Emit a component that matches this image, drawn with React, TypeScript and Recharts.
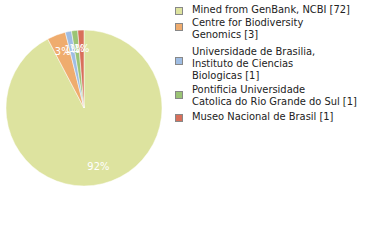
import React from "react";
import { PieChart, Pie, Cell, Legend } from "recharts";

const categories = [
  "Mined from GenBank, NCBI",
  "Centre for Biodiversity Genomics",
  "Universidade de Brasilia, Instituto de Ciencias Biologicas",
  "Pontificia Universidade Catolica do Rio Grande do Sul",
  "Museo Nacional de Brasil",
];
const legendLines = [
  ["Mined from GenBank, NCBI [72]"],
  ["Centre for Biodiversity", "Genomics [3]"],
  ["Universidade de Brasilia,", "Instituto de Ciencias", "Biologicas [1]"],
  ["Pontificia Universidade", "Catolica do Rio Grande do Sul [1]"],
  ["Museo Nacional de Brasil [1]"],
];
const values = [72, 3, 1, 1, 1];
const colors = ["#dde39f", "#efac6e", "#9fbde3", "#9bc475", "#d86f5a"];

const data = categories.map((name, i) => ({ name, value: values[i] }));
const total = values.reduce((a, b) => a + b, 0);

const FONT = "'DejaVu Sans Condensed', 'DejaVu Sans', sans-serif";
const RAD = Math.PI / 180;

const renderLabel = (props: any) => {
  const { cx, cy, midAngle, value } = props;
  const r = 60;
  const x = cx + r * Math.cos(-midAngle * RAD);
  const y = cy + r * Math.sin(-midAngle * RAD);
  const pct = Math.floor((value / total) * 100);
  return (
    <text
      x={x}
      y={y}
      fill="#ffffff"
      fontSize={11}
      fontFamily={FONT}
      textAnchor="middle"
      dominantBaseline="central"
    >
      {pct + "%"}
    </text>
  );
};

const renderLegend = () => {
  const squareTops = [7, 23, 57, 91, 114];
  const textTops = [[4], [17, 29], [46, 58, 70], [84, 96], [111]];
  return (
    <div style={{ position: "absolute", left: 0, top: 0, width: 380, height: 240, fontFamily: FONT, fontSize: 11, color: "#222" }}>
      {legendLines.map((lines, i) => (
        <React.Fragment key={i}>
          <div
            style={{
              position: "absolute",
              left: 175,
              top: squareTops[i],
              width: 6,
              height: 6,
              background: colors[i],
              border: "1px solid #888",
            }}
          />
          {lines.map((t, j) => (
            <div key={j} style={{ position: "absolute", left: 192, top: textTops[i][j], lineHeight: "12px", whiteSpace: "nowrap" }}>
              {t}
            </div>
          ))}
        </React.Fragment>
      ))}
    </div>
  );
};

export default function App() {
  return (
    <div style={{ position: "fixed", left: 0, top: 0, width: 380, height: 240, background: "#fff" }}>
      <PieChart width={380} height={240} margin={{ top: 0, right: 0, bottom: 0, left: 0 }}>
        <Pie
          data={data}
          dataKey="value"
          nameKey="name"
          cx={84}
          cy={108}
          outerRadius={78}
          startAngle={90}
          endAngle={-270}
          stroke="#ffffff"
          strokeWidth={0.5}
          label={renderLabel}
          labelLine={false}
          isAnimationActive={false}
        >
          {data.map((d, i) => (
            <Cell key={d.name} fill={colors[i]} />
          ))}
        </Pie>
        <Legend content={renderLegend} wrapperStyle={{ position: "absolute", left: 0, top: 0, width: 380, height: 240 }} />
      </PieChart>
    </div>
  );
}
